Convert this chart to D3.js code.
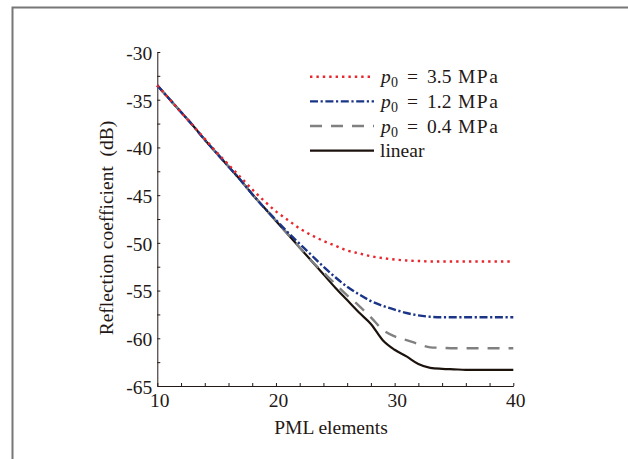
<!DOCTYPE html>
<html>
<head>
<meta charset="utf-8">
<script src="https://cdn.jsdelivr.net/npm/d3@7"></script>
<style>
    body { margin: 0; background: #fff; }
    svg text { font-family: "Liberation Serif", "Times New Roman", serif; fill: #231815; }
</style>
</head>
<body>
<svg id="chartReflection"></svg>
<script>
// PML elements (x) and reflection coefficient in dB for each case
const pmlElements = [10, 11, 12, 13, 14, 15, 16, 17, 18, 19, 20, 21, 22, 23, 24, 25,
    26, 27, 28, 29, 30, 31, 32, 33, 34, 35, 36, 37, 38, 39, 40];
const linearDb = [-33.5, -34.9, -36.3, -37.7, -39.2, -40.6, -42.0, -43.4, -44.9, -46.3, -47.7,
    -49.1, -50.5, -51.9, -53.3, -54.7, -56.0, -57.3, -58.5, -60.2, -61.2, -61.9, -62.7, -63.1,
    -63.2, -63.25, -63.3, -63.3, -63.3, -63.3, -63.3];
const p04Db = [-33.5, -34.9, -36.3, -37.7, -39.2, -40.6, -42.0, -43.4, -44.9, -46.3, -47.7,
    -49.1, -50.5, -51.9, -53.1, -54.3, -55.5, -56.6, -57.8, -59.1, -59.8, -60.2, -60.6, -60.95,
    -61.0, -61.05, -61.05, -61.05, -61.05, -61.05, -61.05];
const p12Db = [-33.5, -34.9, -36.3, -37.7, -39.2, -40.6, -42.0, -43.4, -44.9, -46.3, -47.6,
    -48.9, -50.1, -51.3, -52.5, -53.6, -54.6, -55.4, -56.1, -56.6, -57.0, -57.35, -57.6, -57.75,
    -57.8, -57.8, -57.8, -57.8, -57.8, -57.8, -57.8];
const p35Db = [-33.5, -34.9, -36.3, -37.7, -39.1, -40.5, -41.8, -43.1, -44.4, -45.6, -46.7,
    -47.6, -48.5, -49.2, -49.8, -50.3, -50.8, -51.1, -51.4, -51.6, -51.75, -51.85, -51.9, -51.95,
    -51.95, -51.95, -51.95, -51.95, -51.95, -51.95, -51.95];
const legendPressures = ["3.5", "1.2", "0.4"];
const xTicks = [10, 12, 14, 16, 18, 20, 22, 24, 26, 28, 30, 32, 34, 36, 38, 40];
const yTicks = [-65, -62.5, -60, -57.5, -55, -52.5, -50, -47.5, -45, -42.5, -40, -37.5, -35, -32.5, -30];

function ReflectionPlot() {
    let self = this;
    let fontSize = "19.5px";

    function initPlot() {
        self.width = 628;
        self.height = 459;
        self.svg = d3.select('#chartReflection')
            .attr("width", self.width)
            .attr("height", self.height);

        // grey frame (top + left only)
        self.svg.append("path")
            .attr("d", "M12.5,459V7.5H628")
            .attr("fill", "none")
            .attr("stroke", "#777")
            .attr("stroke-width", 2);

        self.x = d3.scaleLinear().domain([10, 40]).range([157.3, 513.3]);
        self.y = d3.scaleLinear().domain([-65, -30]).range([386, 52]);

        let xAxis = self.svg.append("g")
            .attr("transform", "translate(0," + self.y(-65) + ")")
            .call(d3.axisBottom(self.x)
                .tickValues(xTicks)
                .tickSizeInner(-3)
                .tickSizeOuter(0)
                .tickPadding(7)
                .tickFormat(d => d % 10 === 0 ? d : ""));
        let yAxis = self.svg.append("g")
            .attr("transform", "translate(" + self.x(10) + ",0)")
            .call(d3.axisLeft(self.y)
                .tickValues(yTicks)
                .tickSizeInner(-3)
                .tickSizeOuter(0)
                .tickPadding(5)
                .tickFormat(d => d % 5 === 0 ? d : ""));

        [xAxis, yAxis].forEach(function(a) {
            a.selectAll("path, line").attr("stroke", "#231815");
            a.selectAll("text")
                .style("font-family", '"Liberation Serif", "Times New Roman", serif')
                .style("font-size", fontSize)
                .attr("fill", "#231815");
        });
        xAxis.selectAll("text").attr("dx", 2);
        yAxis.selectAll("text").attr("dy", "0.38em");

        self.svg.append("text")
            .attr("x", 331)
            .attr("y", 434)
            .attr("text-anchor", "middle")
            .style("font-size", fontSize)
            .text("PML elements");

        self.svg.append("text")
            .attr("transform", "translate(113,228) rotate(-90)")
            .attr("text-anchor", "middle")
            .style("font-size", fontSize)
            .text("Reflection coefficient\u00a0 (dB)");
    }

    function plot() {
        let series = [
            {values: linearDb, color: "#1c120c", dash: null},
            {values: p04Db, color: "#808080", dash: "12,9"},
            {values: p12Db, color: "#1a3488", dash: "8,2.6,2.2,2.6"},
            {values: p35Db, color: "#e8262c", dash: "2.4,4"}
        ];
        let line = d3.line()
            .x((d, i) => self.x(pmlElements[i]))
            .y(d => self.y(d))
            .curve(d3.curveMonotoneX);

        self.svg.selectAll("path.curve")
            .data(series)
            .enter().append("path")
            .attr("class", "curve")
            .attr("d", d => line(d.values))
            .attr("fill", "none")
            .attr("stroke", d => d.color)
            .attr("stroke-width", d => d.dash ? 2.4 : 2.2)
            .attr("stroke-dasharray", d => d.dash);

        // legend
        let legendRows = [
            {color: "#e8262c", dash: "2.4,4", p: legendPressures[0]},
            {color: "#1a3488", dash: "8,2.6,2.2,2.6", p: legendPressures[1]},
            {color: "#808080", dash: "12,9", p: legendPressures[2]},
            {color: "#1c120c", dash: null, p: null}
        ];
        let rowY = d3.scaleLinear().domain([0, 3]).range([76.7, 150.7]);
        let legend = self.svg.append("g");
        let rows = legend.selectAll("g")
            .data(legendRows)
            .enter().append("g")
            .attr("transform", (d, i) => "translate(0," + rowY(i) + ")");
        rows.append("line")
            .attr("x1", 310).attr("x2", 374)
            .attr("stroke", d => d.color)
            .attr("stroke-width", d => d.dash ? 2.4 : 2.2)
            .attr("stroke-dasharray", d => d.dash);

        rows.filter(d => d.p === null).append("text")
            .attr("x", 380).attr("y", 6.5)
            .style("font-size", fontSize)
            .text("linear");

        let t = rows.filter(d => d.p !== null).append("text")
            .attr("y", 6.5)
            .style("font-size", fontSize);
        t.append("tspan").attr("x", 381).style("font-style", "italic").text("p");
        t.append("tspan").attr("x", 391).attr("dy", 4).style("font-size", "14px").text("0");
        t.append("tspan").attr("x", 407).attr("dy", -4).text("=");
        t.append("tspan").attr("x", 427).text(d => d.p);
        t.append("tspan").attr("x", 458).style("letter-spacing", "1.5px").text("MPa");
    }

    return {
        initPlot, plot
    }
}

let chart = new ReflectionPlot();
chart.initPlot();
chart.plot();
</script>
</body>
</html>
